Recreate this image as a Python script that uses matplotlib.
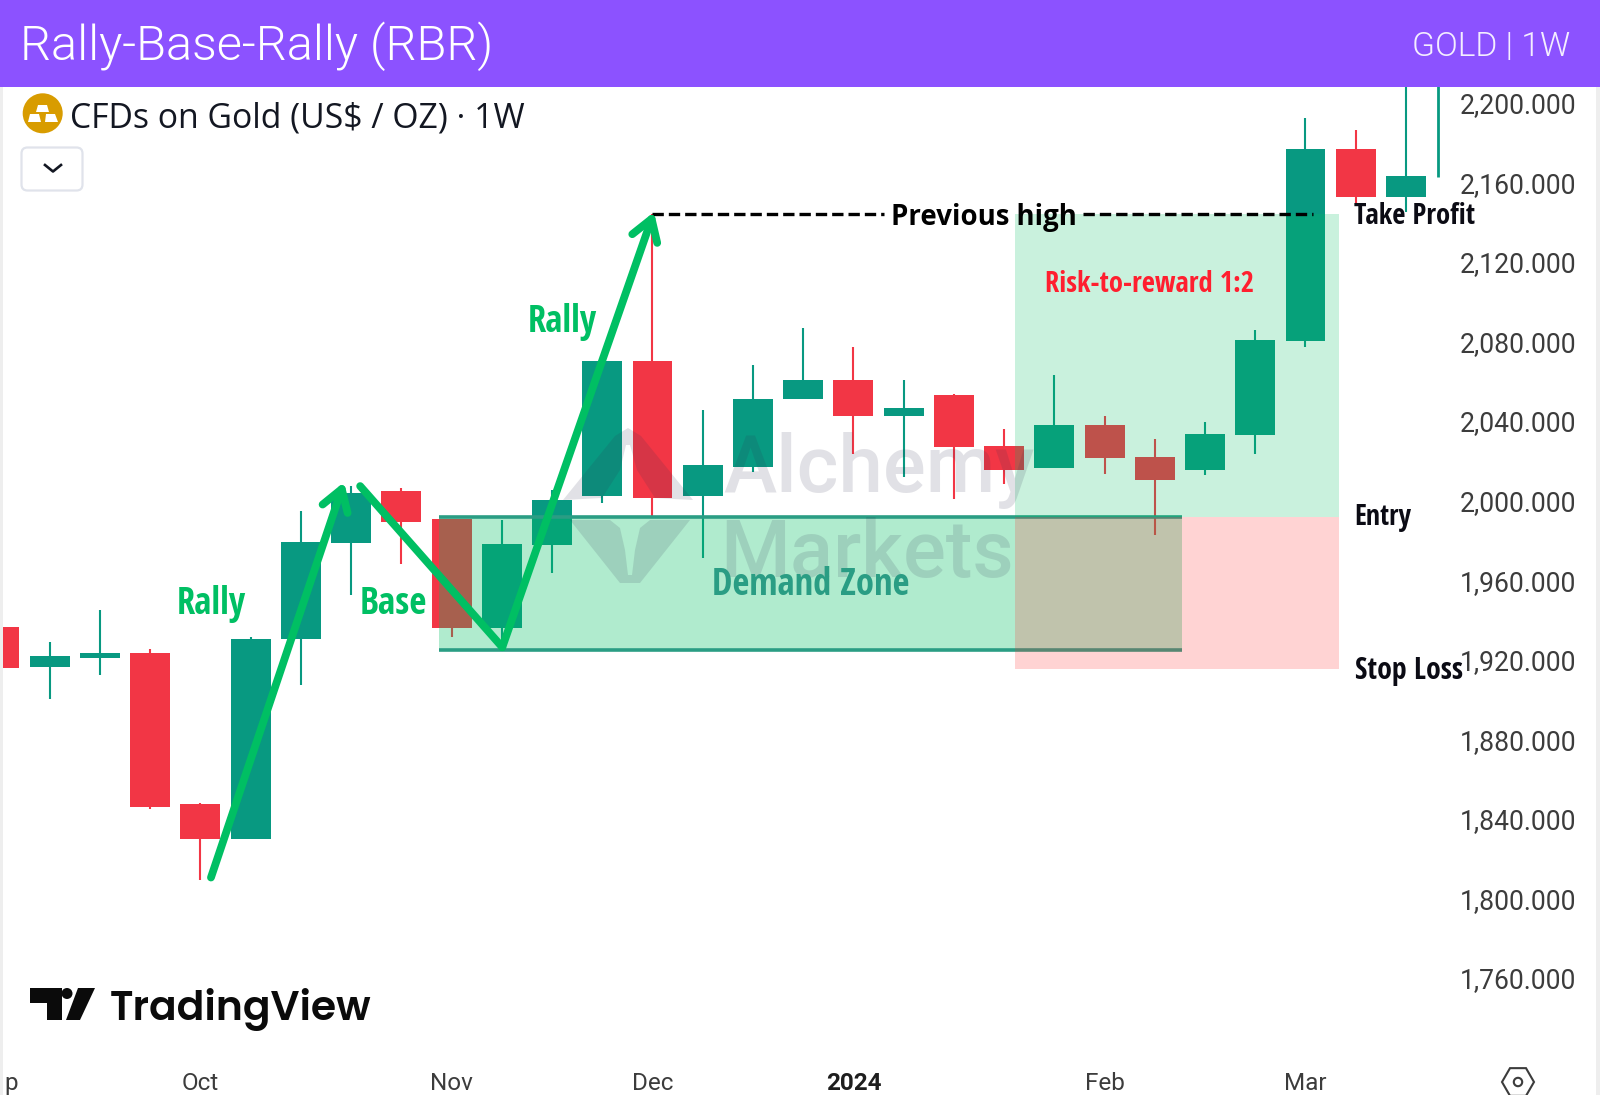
import logging
import matplotlib
matplotlib.use("Agg")
import matplotlib.pyplot as plt
from matplotlib.patches import Rectangle, Polygon, Circle, FancyBboxPatch, RegularPolygon
from matplotlib.transforms import Affine2D, ScaledTranslation
logging.getLogger("matplotlib.font_manager").setLevel(logging.ERROR)

W, H = 1600, 1095

# ---- data ----
opens  = [1937.3,1917.2,1921.6,1924.1,1848.2,1830.8,1931.3,1979.4,2005.4,1991.3,1936.6,1978.4,2002.8,2071.0,2002.8,2017.8,
          2051.8,2061.4,2043.0,2053.6,2028.0,2016.9,2038.6,2022.7,2016.0,2033.7,2081.0,2177.6,2153.3]
closes = [1916.3,1922.5,1924.2,1846.5,1830.8,1931.1,1980.0,2004.6,1989.7,1936.6,1979.0,2001.0,2071.0,2001.9,2018.5,2051.7,
          2061.4,2043.0,2047.4,2027.5,2016.0,2038.6,2022.0,2011.0,2034.2,2081.6,2177.6,2153.3,2163.7]
highs  = [1937.3,1929.4,1945.8,1926.0,1848.9,1932.0,1995.7,2008.0,2007.2,1991.3,1991.0,2006.0,2071.0,2144.8,2046.5,2069.0,
          2087.5,2078.0,2061.4,2054.5,2036.8,2064.0,2043.0,2031.5,2040.4,2086.6,2193.3,2187.1,2215.0]
lows   = [1916.3,1900.8,1913.1,1845.4,1809.9,1830.8,1907.8,1953.2,1969.0,1932.2,1931.0,1964.3,1999.3,1993.0,1972.0,2015.0,
          2051.8,2024.0,2012.5,2001.4,2009.0,2016.9,2014.3,1983.4,2013.4,2024.0,2078.0,2150.0,2145.7]
last_wick_x = 28.64
last_wick_top, last_wick_bottom = 2215.0, 2163.3

y_ticks = [1760,1800,1840,1880,1920,1960,2000,2040,2080,2120,2160,2200]
x_tick_pos = [0.24,4,9,13,17,22,26]
x_tick_labels = ["p","Oct","Nov","Dec","2024","Feb","Mar"]

zone_x = [8.75,23.55]
zone_y = [1925.5,1992.4]
rr_x = [20.21,26.66]
target_y, entry_y, stop_y = 2144.8,1992.4,1915.8
high_x = [13.0,17.6,21.57,26.15]
arrow1_x, arrow1_y = [4.21,6.86],[1811.2,2010.0]
base_x, base_y = [7.18,10.01],[2008.0,1927.0]
arrow2_x, arrow2_y = [10.01,13.03],[1927.0,2145.8]

TEAL, RED, GREEN = "#089981","#F23645","#00BF63"

# ---- axes mapped so index/price land on the chart pane ----
PPU, Y0, P0, XS, XO = 1.989, 104.2, 2200.0, 50.23, -0.5
L, R_, T, B = 3, 1460, 87, 1052
fig = plt.figure(figsize=(W/100, H/100), dpi=100, facecolor="white")
ax = fig.add_axes([L/W, 1-B/H, (R_-L)/W, (B-T)/H], facecolor="white")
ax.set_xlim((L-XO)/XS, (R_-XO)/XS)
ax.set_ylim(P0-(B-Y0)/PPU, P0-(T-Y0)/PPU)
for s in ax.spines.values():
    s.set_visible(False)
PX = Affine2D().scale(1,-1).translate(0,H)

# candles
idx = list(range(len(opens)))
cols = [TEAL if c>=o else RED for o,c in zip(opens,closes)]
ax.vlines(idx, lows, highs, colors=cols, linewidth=1.5, zorder=2)
ax.bar(idx, [abs(c-o) for o,c in zip(opens,closes)], bottom=[min(o,c) for o,c in zip(opens,closes)],
       width=0.795, color=cols, linewidth=0, zorder=2.1)
ax.vlines([last_wick_x],[last_wick_bottom],[last_wick_top],colors=TEAL,linewidth=2.0,zorder=2)

# demand zone
ax.add_patch(Rectangle((zone_x[0],zone_y[0]),zone_x[1]-zone_x[0],zone_y[1]-zone_y[0],fc=GREEN,alpha=.31,lw=0,zorder=3))
ax.hlines(zone_y,zone_x[0],zone_x[1],colors="#2A9D84",linewidth=2.6,zorder=3.1)
# risk / reward boxes
ax.add_patch(Rectangle((rr_x[0],entry_y),rr_x[1]-rr_x[0],target_y-entry_y,fc=GREEN,alpha=.21,lw=0,zorder=4))
ax.add_patch(Rectangle((rr_x[0],stop_y),rr_x[1]-rr_x[0],entry_y-stop_y,fc="#FF3131",alpha=.21,lw=0,zorder=4))

# previous high
for a,b in ((high_x[0],high_x[1]),(high_x[2],high_x[3])):
    ax.plot([a,b],[target_y,target_y],color="black",lw=2.4,dashes=(3.4,1.5),dash_capstyle="butt",zorder=6)

# arrows
def arrow(xs,ys):
    ax.annotate("",xy=(xs[1],ys[1]),xytext=(xs[0],ys[0]),zorder=7,
        arrowprops=dict(arrowstyle="->,head_length=1.5,head_width=0.95",mutation_scale=10,lw=5.6,color=GREEN,
                        shrinkA=0,shrinkB=0,capstyle="round",joinstyle="round"))
arrow(arrow1_x,arrow1_y)
arrow(arrow2_x,arrow2_y)
ax.plot(base_x,base_y,color=GREEN,lw=5.6,solid_capstyle="round",zorder=7)

# axis labels
ax.yaxis.tick_right()
ax.set_yticks(y_ticks)
ax.set_yticklabels([f"{v:,.3f}" for v in y_ticks],fontfamily="Roboto",fontsize=19.1,color="#3C3C3C",ha="right")
ax.tick_params(axis="y",length=0,pad=(1576-R_)*.72)
for t in ax.get_yticklabels():
    t.set_transform(t.get_transform()+ScaledTranslation(0,1.5/100,fig.dpi_scale_trans))
ax.set_xticks(x_tick_pos)
ax.set_xticklabels(x_tick_labels,fontfamily="Roboto",fontsize=17.5,color="#3C3C3C")
ax.tick_params(axis="x",length=0,pad=14.7)
for t in ax.get_xticklabels():
    if t.get_text()=="2024":
        t.set_fontweight("bold"); t.set_color("#1E1E1E")

def text(x,y,s,**k):
    k.setdefault("va","baseline")
    k.setdefault("ha","left")
    k.setdefault("zorder",8)
    return ax.text(x,y,s,transform=PX,clip_on=False,**k)
def poly(pts,**k):
    k.setdefault("lw",0)
    k.setdefault("zorder",5)
    p=Polygon(pts,closed=True,transform=PX,clip_on=False,**k)
    ax.add_patch(p)
    return p

NARROW=["Open Sans Condensed","Roboto Condensed","Roboto"]
BOLD=dict(fontfamily=NARROW,fontweight="bold")
# watermark
WM=dict(fc="#303050",alpha=.14,zorder=5)
poly([(563,500),(615,436),(628,428),(641,436),(693,500),(655,498),(637,470),(630,445),(626,445),(620,470),(602,498)],**WM)
poly([(570,520),(610,520),(620,528),(625,550),(628,575),(632,575),(635,550),(640,528),(650,520),(690,520),(640,583),(620,583)],**WM)
text(723,492,"Alchemy",fontfamily="Roboto",fontweight=500,fontsize=57.5,color="#303050",alpha=.14,zorder=5)
text(720,577,"Markets",fontfamily="Roboto",fontweight=500,fontsize=57.5,color="#303050",alpha=.14,zorder=5)

# annotations
text(176.5,614,"Rally",fontsize=26.4,color=GREEN,**BOLD)
text(359.5,614,"Base",fontsize=26.8,color=GREEN,**BOLD)
text(527.5,331.6,"Rally",fontsize=26.4,color=GREEN,**BOLD)
text(712,595,"Demand Zone",fontsize=26.3,color="#2A9D84",**BOLD)
text(1045,292,"Risk-to-reward 1:2",fontsize=20.6,color="#FF1F2F",**BOLD)
text(891,224.6,"Previous high",fontfamily=["Open Sans","Roboto"],fontweight="bold",fontsize=19.9,color="black")
text(1354,223.5,"Take Profit",fontsize=20.7,color="#0B0B14",**BOLD)
text(1354.5,525,"Entry",fontsize=20.2,color="#0B0B14",**BOLD)
text(1355,679,"Stop Loss",fontsize=21.5,color="#0B0B14",**BOLD)

# header and frame
ax.add_patch(Rectangle((0,0),W,87,fc="#8C52FF",lw=0,transform=PX,clip_on=False,zorder=10))
ax.add_patch(Rectangle((0,87),3,H-87,fc="#EEEEEE",lw=0,transform=PX,clip_on=False,zorder=10))
ax.add_patch(Rectangle((1596,87),4,H-87,fc="#EEEEEE",lw=0,transform=PX,clip_on=False,zorder=10))
text(20.5,59.5,"Rally-Base-Rally (RBR)",fontfamily="Roboto",fontweight=300,fontsize=35.1,color="white",zorder=11)
text(1570,56,"GOLD | 1W",fontfamily="Roboto",fontweight=300,fontsize=24.2,color="#F4EEFF",ha="right",zorder=11)

# symbol legend
ax.add_patch(Circle((42.7,113.3),20,fc="#D89C00",lw=0,transform=PX,clip_on=False,zorder=8))
for pts in ([(38,105),(47,105),(49,112),(36,112)],[(30,114),(39,114),(41,122),(28,122)],[(46,114),(55,114),(58,122),(45,122)]):
    poly(pts,fc="white",zorder=9)
text(70,127.3,"CFDs on Gold (US$ / OZ) · 1W",fontfamily="Open Sans",fontsize=24.3,color="#131722")
ax.add_patch(FancyBboxPatch((25,151),54,36,boxstyle="round,pad=3.5,rounding_size=6",fc="white",ec="#E0E3EB",lw=1.6,
                            transform=PX,clip_on=False,zorder=8))
ax.plot([45,53,61],[165,171.5,165],color="#131722",lw=1.9,transform=PX,clip_on=False,zorder=9)

# TradingView logo
poly([(30,988),(62,988),(62,1020),(47,1020),(47,1003),(30,1003)],fc="#0B0B0B",zorder=8)
poly([(78,988),(95,988),(80,1020),(66,1020)],fc="#0B0B0B",zorder=8)
ax.add_patch(Circle((67,993.5),5.5,fc="#0B0B0B",lw=0,transform=PX,clip_on=False,zorder=8))
text(110,1020,"TradingView",fontfamily=["Poppins","Inter"],fontweight=600,fontsize=29.4,color="#0B0B0B")

# settings icon
ax.add_patch(RegularPolygon((1518,1082),6,radius=16,orientation=0.5236,fc="none",ec="#3C3C3C",lw=1.5,transform=PX,clip_on=False,zorder=8))
ax.add_patch(Circle((1518,1082),4.2,fc="none",ec="#3C3C3C",lw=1.5,transform=PX,clip_on=False,zorder=8))

fig.savefig("out.png",dpi=100,facecolor="white")
